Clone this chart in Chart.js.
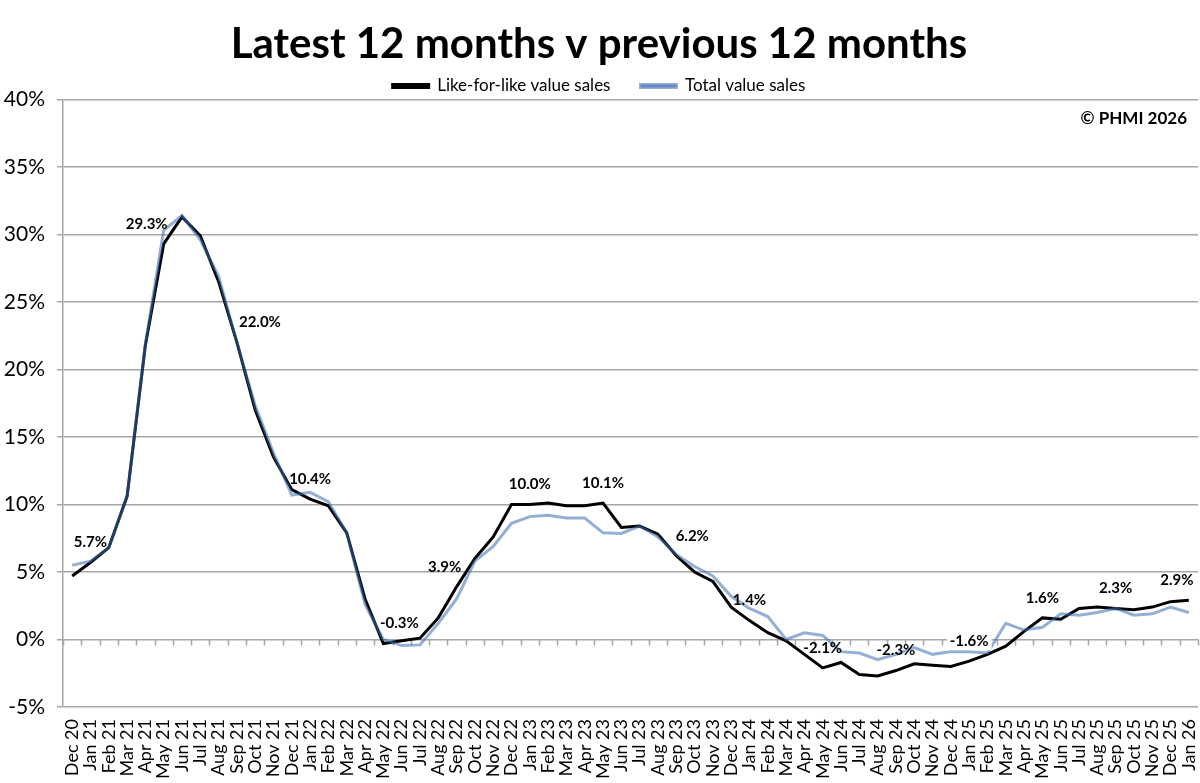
<!DOCTYPE html>
<html>
<head>
<meta charset="utf-8">
<script src="https://cdn.jsdelivr.net/npm/chart.js@4.4.1/dist/chart.umd.min.js"></script>
<style>
  html, body { margin: 0; padding: 0; background: #fff; }
  #wrap { width: 1200px; height: 783px; }
</style>
</head>
<body>
<div id="wrap"><canvas id="myChart"></canvas></div>
<script>
const months = [
    'Dec 20',
    'Jan 21','Feb 21','Mar 21','Apr 21','May 21','Jun 21','Jul 21','Aug 21','Sep 21','Oct 21','Nov 21','Dec 21',
    'Jan 22','Feb 22','Mar 22','Apr 22','May 22','Jun 22','Jul 22','Aug 22','Sep 22','Oct 22','Nov 22','Dec 22',
    'Jan 23','Feb 23','Mar 23','Apr 23','May 23','Jun 23','Jul 23','Aug 23','Sep 23','Oct 23','Nov 23','Dec 23',
    'Jan 24','Feb 24','Mar 24','Apr 24','May 24','Jun 24','Jul 24','Aug 24','Sep 24','Oct 24','Nov 24','Dec 24',
    'Jan 25','Feb 25','Mar 25','Apr 25','May 25','Jun 25','Jul 25','Aug 25','Sep 25','Oct 25','Nov 25','Dec 25',
    'Jan 26'
];

// like-for-like value sales, % change latest 12m v previous 12m
const likeForLike = [
    4.7,
    5.7, 6.8, 10.6, 21.8, 29.3, 31.3, 29.9, 26.5, 22.0, 17.0, 13.5, 11.1,
    10.4, 9.9, 7.9, 3.0, -0.3, -0.1, 0.1, 1.6, 3.9, 6.0, 7.6, 10.0,
    10.0, 10.1, 9.9, 9.9, 10.1, 8.3, 8.4, 7.8, 6.2, 5.0, 4.3, 2.4,
    1.4, 0.5, -0.1, -1.1, -2.1, -1.7, -2.6, -2.7, -2.3, -1.8, -1.9, -2.0,
    -1.6, -1.1, -0.5, 0.6, 1.6, 1.5, 2.3, 2.4, 2.3, 2.2, 2.4, 2.8,
    2.9
];

// total value sales
const totalSales = [
    5.5,
    5.8, 6.8, 10.6, 21.9, 30.3, 31.4, 29.6, 26.9, 22.0, 17.3, 13.8, 10.7,
    10.9, 10.2, 7.9, 2.6, 0.0, -0.45, -0.4, 1.2, 3.0, 5.8, 6.9, 8.6,
    9.1, 9.2, 9.0, 9.0, 7.9, 7.85, 8.4, 7.6, 6.3, 5.4, 4.7, 3.2,
    2.3, 1.7, 0.0, 0.5, 0.3, -0.9, -1.0, -1.5, -1.1, -0.6, -1.1, -0.9,
    -0.9, -1.0, 1.2, 0.7, 0.9, 1.9, 1.8, 2.0, 2.3, 1.8, 1.9, 2.4,
    2.0
];

// which like-for-like points carry a value label (every 4 months)
const labelledMonths = ['Jan 21','May 21','Sep 21','Jan 22','May 22','Sep 22','Jan 23','May 23',
    'Sep 23','Jan 24','May 24','Sep 24','Jan 25','May 25','Sep 25','Jan 26'];

const FONT = 'Lato';

// small sideways nudges so labels sit like the original
const labelNudge = { 'May 21': -17, 'Sep 21': 23, 'May 22': 16, 'Sep 22': -12, 'Sep 23': 16, 'Jan 26': -12 };

// legend rows come out a bit tall, take a few px off
const legendTrim = {
    id: 'legendTrim',
    beforeLayout(chart) {
        var lg = chart.legend;
        if (lg && !lg.trimmed) {
            var fit = lg.fit;
            lg.fit = function() { fit.call(this); this.height -= 5; };
            lg.trimmed = true;
        }
    }
};

const zeroTicks = {
    id: 'zeroTicks',
    beforeDatasetsDraw(chart) {
        var xs = chart.scales.x, ys = chart.scales.y;
        var c = chart.ctx;
        var step = xs.getPixelForValue(1) - xs.getPixelForValue(0);
        var y0 = ys.getPixelForValue(0);
        c.save();
        c.strokeStyle = '#a6a6a6';
        c.lineWidth = 1.5;
        c.beginPath();
        for (var i = 0; i <= months.length; i++) {
            var x = Math.round(xs.getPixelForValue(i) - step / 2) + 0.5;
            c.moveTo(x, y0);
            c.lineTo(x, y0 + 6);
        }
        c.stroke();
        c.restore();
    }
};

const extras = {
    id: 'extras',
    afterDatasetsDraw(chart) {
        var c = chart.ctx;
        var meta = chart.getDatasetMeta(0);
        c.save();
        c.font = 'bold 15px ' + FONT;
        c.textAlign = 'center';
        c.textBaseline = 'middle';
        labelledMonths.forEach(m => {
            var i = months.indexOf(m);
            var pt = meta.data[i];
            var txt = likeForLike[i].toFixed(1) + '%';
            var x = pt.x + (labelNudge[m] || 0);
            var y = pt.y - 20;
            if (m === 'Jan 25') {
                var w = c.measureText(txt).width;
                c.fillStyle = '#fff';
                c.fillRect(x - w / 2 - 3, y - 9, w + 6, 18);
            }
            c.fillStyle = '#000';
            c.fillText(txt, x, y);
        });
        var a = chart.chartArea;
        c.font = 'bold 17px ' + FONT;
        c.textAlign = 'right';
        c.fillText('\u00A9 PHMI 2026', a.right - 11, a.top + 19);
        c.restore();
    }
};

const ctx = document.getElementById('myChart').getContext('2d');
const myChartObj = new Chart(ctx, {
    type: 'line',
    data: {
        labels: months,
        datasets: [{
            label: 'Like-for-like value sales',
            data: likeForLike,
            borderColor: '#000000',
            backgroundColor: '#000000',
            borderWidth: 3,
            pointRadius: 0,
            tension: 0,
            order: 1
        }, {
            label: 'Total value sales',
            data: totalSales,
            borderColor: 'rgba(60, 110, 180, 0.55)',
            backgroundColor: 'rgba(60, 110, 180, 0.55)',
            borderWidth: 3,
            pointRadius: 0,
            tension: 0,
            order: 0
        }]
    },
    options: {
        responsive: true,
        maintainAspectRatio: false,
        animation: false,
        layout: { padding: { left: 0, right: 2, top: 0, bottom: 0 } },
        plugins: {
            title: {
                display: true,
                text: 'Latest 12 months v previous 12 months',
                color: '#000',
                font: { family: FONT, size: 42, weight: 'bold' },
                padding: { top: 19, bottom: -22 }
            },
            legend: {
                labels: {
                    boxWidth: 36,
                    boxHeight: 3,
                    color: '#000',
                    padding: 30,
                    font: { family: FONT, size: 17 },
                    sort: (a, b) => a.datasetIndex - b.datasetIndex
                }
            },
            tooltip: { enabled: false }
        },
        scales: {
            x: {
                offset: true,
                grid: { display: false },
                border: { display: false },
                ticks: {
                    autoSkip: false,
                    maxRotation: 90,
                    minRotation: 90,
                    color: '#000',
                    padding: 4,
                    font: { family: FONT, size: 18 }
                },
                afterFit: s => { s.height = 76; s.paddingLeft = 0; s.paddingRight = 0; }
            },
            y: {
                min: -5,
                max: 40,
                ticks: {
                    stepSize: 5,
                    color: '#000',
                    padding: 12,
                    font: { family: FONT, size: 21 },
                    callback: v => v + '%'
                },
                grid: { color: '#a6a6a6', lineWidth: 1.5, tickLength: 6 },
                border: { color: '#a6a6a6', width: 1.5 },
                afterFit: s => { s.width = 63; }
            }
        }
    },
    plugins: [legendTrim, zeroTicks, extras]
});
</script>
</body>
</html>
